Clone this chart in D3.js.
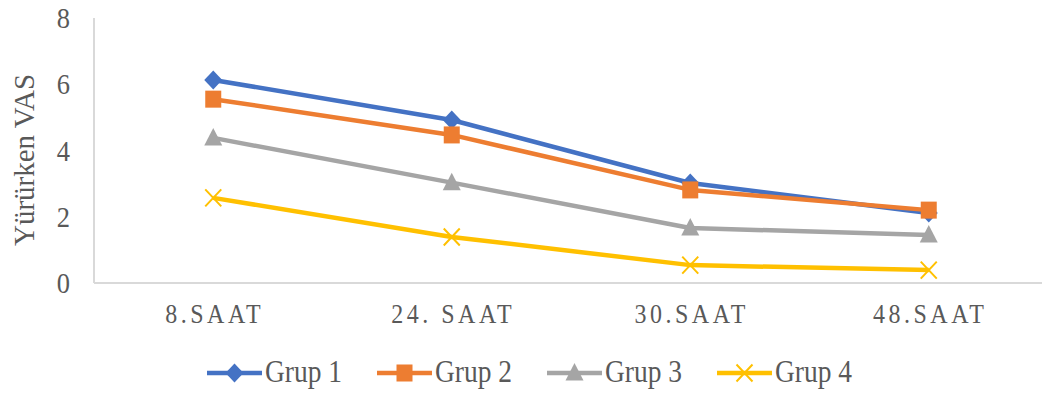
<!DOCTYPE html>
<html>
<head>
<meta charset="utf-8">
<script src="https://cdn.jsdelivr.net/npm/d3@7"></script>
<style>
  html, body { margin: 0; padding: 0; background: #fff; }
  svg { display: block; }
  text { font-family: "Liberation Serif", "Times New Roman", serif; fill: #595959; }
</style>
</head>
<body>
<svg id="chart" width="1042" height="393"></svg>
<script>
// Time points and walking VAS scores per group
const categories = ["8.SAAT", "24. SAAT", "30.SAAT", "48.SAAT"];
const seriesNames = ["Grup 1", "Grup 2", "Grup 3", "Grup 4"];
const grup1 = [6.13, 4.92, 3.02, 2.11];
const grup2 = [5.55, 4.47, 2.81, 2.2];
const grup3 = [4.38, 3.03, 1.66, 1.45];
const grup4 = [2.57, 1.39, 0.54, 0.39];
const yTicks = [0, 2, 4, 6, 8];
const yTitle = "Yürürken VAS";

const series = [
  { name: seriesNames[0], values: grup1, color: "#4472C4", marker: "diamond" },
  { name: seriesNames[1], values: grup2, color: "#ED7D31", marker: "square" },
  { name: seriesNames[2], values: grup3, color: "#A5A5A5", marker: "triangle" },
  { name: seriesNames[3], values: grup4, color: "#FFC000", marker: "cross" }
];

const svg = d3.select("#chart");
const plotLeft = 94, plotRight = 1048, plotTop = 18, plotBottom = 283;
const textStretch = 1.12; // glyphs are drawn slightly taller than wide

const x = d3.scalePoint().domain(categories).range([plotLeft, plotRight]).padding(0.5);
const y = d3.scaleLinear().domain([0, 8]).range([plotBottom, plotTop]);

// Axis lines
svg.append("line").attr("x1", plotLeft).attr("x2", plotLeft).attr("y1", plotTop).attr("y2", plotBottom)
  .attr("stroke", "#D9D9D9").attr("stroke-width", 2);
svg.append("line").attr("x1", plotLeft).attr("x2", 1042).attr("y1", plotBottom).attr("y2", plotBottom)
  .attr("stroke", "#D9D9D9").attr("stroke-width", 2);

// Y tick labels
svg.selectAll(".ytick").data(yTicks).join("text")
  .attr("class", "ytick")
  .attr("transform", d => `translate(70,${y(d) + 10}) scale(1,${textStretch})`)
  .attr("text-anchor", "end")
  .style("font-size", "26.5px")
  .text(d => d);

// Y axis title
svg.append("text")
  .attr("transform", `translate(34,160) rotate(-90)`)
  .attr("text-anchor", "middle")
  .style("font-size", "29px")
  .text(yTitle);

// X category labels
svg.selectAll(".xtick").data(categories).join("text")
  .attr("class", "xtick")
  .attr("transform", d => `translate(${x(d) + 1.5},323) scale(1,${textStretch})`)
  .attr("text-anchor", "middle")
  .style("font-size", "24px")
  .style("letter-spacing", "3.5px")
  .text(d => d);

// Marker shapes
function drawMarker(g, type, color, cx, cy) {
  if (type === "diamond") {
    g.append("path").attr("d", `M${cx},${cy - 9.5}L${cx + 9},${cy}L${cx},${cy + 9.5}L${cx - 9},${cy}Z`)
      .attr("fill", color);
  } else if (type === "square") {
    g.append("rect").attr("x", cx - 8).attr("y", cy - 8.5).attr("width", 16).attr("height", 17)
      .attr("fill", color);
  } else if (type === "triangle") {
    g.append("path").attr("d", `M${cx},${cy - 10}L${cx + 9},${cy + 7.5}L${cx - 9},${cy + 7.5}Z`)
      .attr("fill", color);
  } else if (type === "cross") {
    g.append("path").attr("d", `M${cx - 8},${cy - 8.5}L${cx + 8},${cy + 8.5}M${cx + 8},${cy - 8.5}L${cx - 8},${cy + 8.5}`)
      .attr("stroke", color).attr("stroke-width", 2).attr("fill", "none");
  }
}

const line = d3.line()
  .x((d, i) => x(categories[i]))
  .y(d => y(d));

series.forEach(s => {
  const g = svg.append("g");
  g.append("path").datum(s.values)
    .attr("d", line)
    .attr("fill", "none")
    .attr("stroke", s.color)
    .attr("stroke-width", 4.5)
    .attr("stroke-linejoin", "round");
  s.values.forEach((v, i) => drawMarker(g, s.marker, s.color, x(categories[i]), y(v)));
});

// Legend
const legendX = [207, 377, 547, 717];
series.forEach((s, i) => {
  const g = svg.append("g");
  const lx = legendX[i], ly = 373;
  g.append("line").attr("x1", lx).attr("x2", lx + 55).attr("y1", ly).attr("y2", ly)
    .attr("stroke", s.color).attr("stroke-width", 4.5);
  drawMarker(g, s.marker, s.color, lx + 27.5, ly);
  g.append("text")
    .attr("transform", `translate(${lx + 58},382) scale(1,${textStretch})`)
    .style("font-size", "27.5px")
    .text(s.name);
});
</script>
</body>
</html>
